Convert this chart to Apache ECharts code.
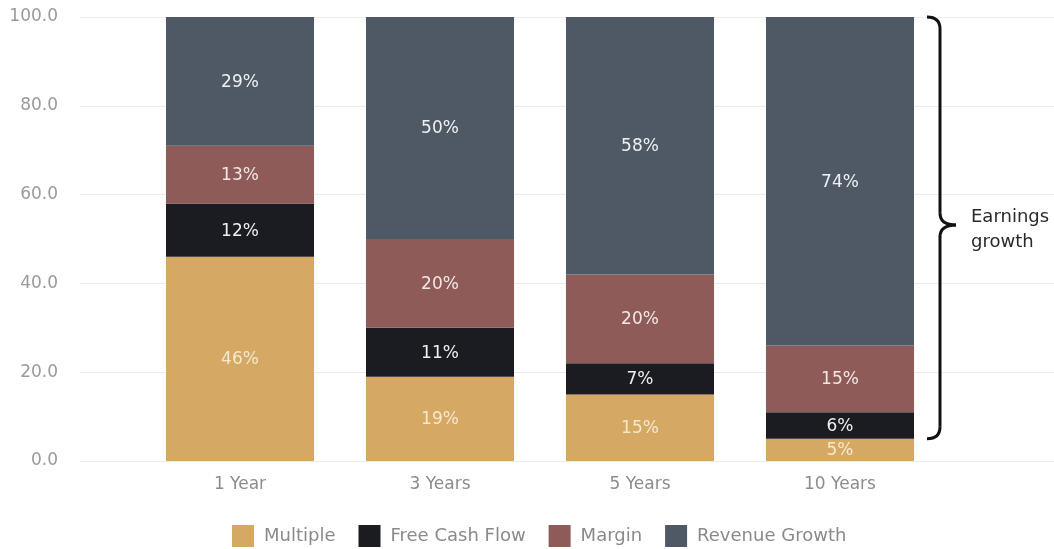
<!DOCTYPE html>
<html>
<head>
<meta charset="utf-8">
<script src="https://cdn.jsdelivr.net/npm/echarts@6/dist/echarts.min.js"></script>
<style>
  html, body { margin: 0; padding: 0; background: #fff; }
  #chart { width: 1054px; height: 549px; }
</style>
</head>
<body>
<div id="chart"></div>
<script>
// Horizons and the share of total return explained by each driver (%)
const categories = ['1 Year', '3 Years', '5 Years', '10 Years'];
const multiple = [46, 19, 15, 5];
const freeCashFlow = [12, 11, 7, 6];
const margin = [13, 20, 20, 15];
const revenueGrowth = [29, 50, 58, 74];
const yTicks = { min: 0, max: 100, interval: 20 };
const braceText = 'Earnings\ngrowth';

const FONT = '"DejaVu Sans", "Noto Sans", sans-serif';
const colors = {
  'Multiple': '#d5a964',
  'Free Cash Flow': '#1b1c21',
  'Margin': '#8e5b58',
  'Revenue Growth': '#4f5966'
};

const chart = echarts.init(document.getElementById('chart'));

function barSeries(name, data, labelColor) {
  return {
    name: name,
    type: 'bar',
    stack: 'total',
    xAxisIndex: 1,
    yAxisIndex: 1,
    barWidth: 148,
    data: data,
    itemStyle: { color: colors[name] },
    label: {
      show: true,
      position: 'inside',
      offset: [0, 1],
      formatter: p => p.value + '%',
      color: labelColor,
      fontSize: 17,
      fontFamily: FONT
    },
    emphasis: { disabled: true }
  };
}

chart.setOption({
  animation: false,
  backgroundColor: '#fff',
  textStyle: { fontFamily: FONT },
  grid: [
    { left: 80, right: 0, top: 17, bottom: 88 },
    { left: 140, right: 114, top: 17, bottom: 88 }
  ],
  xAxis: [
    { gridIndex: 0, type: 'category', data: categories, show: false },
    {
      gridIndex: 1, type: 'category', data: categories,
      axisLine: { show: false }, axisTick: { show: false },
      axisLabel: { color: '#8c8c8c', fontSize: 17, margin: 15, fontFamily: FONT }
    }
  ],
  yAxis: [
    {
      gridIndex: 0, type: 'value', min: yTicks.min, max: yTicks.max, interval: yTicks.interval,
      axisLine: { show: false }, axisTick: { show: false },
      axisLabel: {
        color: '#9a9a9a', fontSize: 17, margin: 22, fontFamily: FONT,
        formatter: v => v.toFixed(1)
      },
      splitLine: { lineStyle: { color: '#ececec', width: 1 } }
    },
    {
      gridIndex: 1, type: 'value', min: yTicks.min, max: yTicks.max, interval: yTicks.interval,
      show: false, splitLine: { show: false }
    }
  ],
  legend: {
    top: 525,
    left: 232,
    padding: 0,
    itemWidth: 22,
    itemHeight: 22,
    itemGap: 23,
    icon: 'rect',
    textStyle: { color: '#8a8a8a', fontSize: 18, fontFamily: FONT, padding: [0, 0, 0, 5] },
    data: ['Multiple', 'Free Cash Flow', 'Margin', 'Revenue Growth']
  },
  series: [
    barSeries('Multiple', multiple, '#f6e8cc'),
    barSeries('Free Cash Flow', freeCashFlow, '#eeeeee'),
    barSeries('Margin', margin, '#f3e6e4'),
    barSeries('Revenue Growth', revenueGrowth, '#eef0f2')
  ]
});

// Brace spanning the earnings-driven part of the last bar
(function drawBrace() {
  const last = categories.length - 1;
  const lastBase = multiple[last];
  const lastTop = lastBase + freeCashFlow[last] + margin[last] + revenueGrowth[last];
  const yTop = chart.convertToPixel({ yAxisIndex: 1 }, lastTop);
  const yBottom = chart.convertToPixel({ yAxisIndex: 1 }, lastBase);
  const cx = chart.convertToPixel({ xAxisIndex: 1 }, categories[last]);
  const x0 = cx + 74 + 13;   // hook ends
  const x1 = x0 + 13;        // spine
  const x2 = x1 + 16;        // tip
  const mid = (yTop + yBottom) / 2 - 3;
  const r = 12;
  const stroke = { stroke: '#111', lineWidth: 3, fill: null };

  const curve = (ax, ay, cpx, cpy, bx, by) => ({
    type: 'bezierCurve',
    shape: { x1: ax, y1: ay, cpx1: cpx, cpy1: cpy, x2: bx, y2: by },
    style: stroke
  });
  const line = (ax, ay, bx, by) => ({
    type: 'line',
    shape: { x1: ax, y1: ay, x2: bx, y2: by },
    style: stroke
  });

  chart.setOption({
    graphic: [
      curve(x0, yTop, x1, yTop, x1, yTop + r),
      line(x1, yTop + r, x1, mid - r),
      curve(x1, mid - r, x1, mid, x2, mid),
      curve(x2, mid, x1, mid, x1, mid + r),
      line(x1, mid + r, x1, yBottom - r),
      curve(x1, yBottom - r, x1, yBottom, x0, yBottom),
      {
        type: 'text',
        x: x2 + 15,
        y: mid + 5,
        style: {
          text: braceText,
          fill: '#2a2a2a',
          font: '18px ' + FONT,
          lineHeight: 25,
          verticalAlign: 'middle'
        }
      }
    ]
  });
})();
</script>
</body>
</html>
